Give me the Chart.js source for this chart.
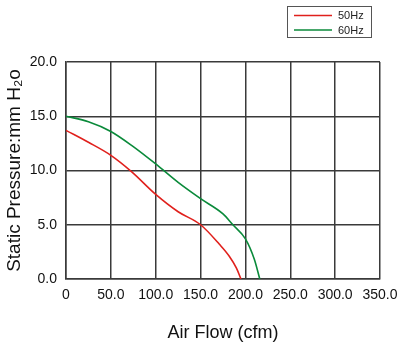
<!DOCTYPE html>
<html><head><meta charset="utf-8">
<script src="https://cdn.jsdelivr.net/npm/chart.js@4/dist/chart.umd.min.js"></script>
<style>html,body{margin:0;padding:0;background:#fff}#wrap{width:400px;height:348px}</style>
</head><body><div id="wrap"><canvas id="c" width="400" height="348"></canvas></div>
<script>
const seriesLabels = ['50Hz', '60Hz'];
const seriesColors = ['#e0201c', '#0a8a3a'];
const airflow50 = [0, 25, 50, 73, 100, 125, 150, 171, 182, 190, 195];
const pressure50 = [13.7, 12.6, 11.4, 9.9, 7.8, 6.2, 5.0, 3.2, 2.1, 1.0, 0];
const airflow60 = [0, 25, 50, 75, 100, 125, 150, 175, 186, 200, 210, 216];
const pressure60 = [15.0, 14.5, 13.6, 12.2, 10.6, 8.9, 7.4, 6.0, 5.0, 3.7, 1.8, 0];
const xTicks = [0, 50, 100, 150, 200, 250, 300, 350];
const yTicks = [0, 5, 10, 15, 20];
const xTitle = 'Air Flow (cfm)';
const yTitle = 'Static Pressure:mm H\u2082o';

const toPts = (xs, ys) => xs.map((x, i) => ({x, y: ys[i]}));
const gridColor = '#3a3a3a';
const FONT = '"Liberation Sans", Arial, sans-serif';

const legendBox = {
  id: 'legendBox',
  afterDraw(chart) {
    const ctx = chart.ctx;
    ctx.save();
    ctx.strokeStyle = '#555';
    ctx.lineWidth = 1;
    ctx.strokeRect(287.5, 6.5, 84, 31);
    ctx.font = '11px ' + FONT;
    ctx.textBaseline = 'middle';
    ctx.fillStyle = '#222';
    chart.data.datasets.forEach((ds, i) => {
      const y = 15.5 + i * 14.5;
      ctx.strokeStyle = ds.borderColor;
      ctx.lineWidth = 1.6;
      ctx.beginPath(); ctx.moveTo(294, y); ctx.lineTo(332, y); ctx.stroke();
      ctx.fillText(ds.label, 338, y + 0.5);
    });
    ctx.restore();
  }
};

new Chart(document.getElementById('c'), {
  type: 'line',
  data: {
    datasets: [
      {label: seriesLabels[0], data: toPts(airflow50, pressure50), borderColor: seriesColors[0], borderWidth: 1.6, pointRadius: 0, cubicInterpolationMode: 'monotone', fill: false},
      {label: seriesLabels[1], data: toPts(airflow60, pressure60), borderColor: seriesColors[1], borderWidth: 1.6, pointRadius: 0, cubicInterpolationMode: 'monotone', fill: false}
    ]
  },
  options: {
    responsive: false,
    animation: false,
    layout: {padding: {top: 62, right: 20, left: 0, bottom: 0}},
    plugins: {legend: {display: false}, tooltip: {enabled: false}},
    scales: {
      x: {
        type: 'linear', min: 0, max: 350,
        afterBuildTicks: s => { s.ticks = xTicks.map(v => ({value: v})); },
        afterFit: s => { s.height = 69; s.paddingLeft = 0; s.paddingRight = 0; },
        ticks: {padding: 8, color: '#111', font: {size: 14, family: FONT}, maxRotation: 0,
          callback: v => v === 0 ? '0' : v.toFixed(1)},
        grid: {color: gridColor, lineWidth: 1.5, drawTicks: false},
        border: {color: gridColor, width: 1.5},
        title: {display: true, text: xTitle, color: '#111', padding: {top: 12}, font: {size: 18, family: FONT}}
      },
      y: {
        min: 0, max: 20,
        afterBuildTicks: s => { s.ticks = yTicks.map(v => ({value: v})); },
        afterFit: s => { s.width = 66; s.paddingTop = 0; s.paddingBottom = 0; },
        ticks: {padding: 9, color: '#111', font: {size: 14, family: FONT},
          callback: v => v.toFixed(1)},
        grid: {color: gridColor, lineWidth: 1.5, drawTicks: false},
        border: {color: gridColor, width: 1.5},
        title: {display: true, text: yTitle, color: '#111', padding: {top: 3, bottom: 0}, font: {size: 19, family: FONT}}
      }
    }
  },
  plugins: [legendBox]
});
</script></body></html>
